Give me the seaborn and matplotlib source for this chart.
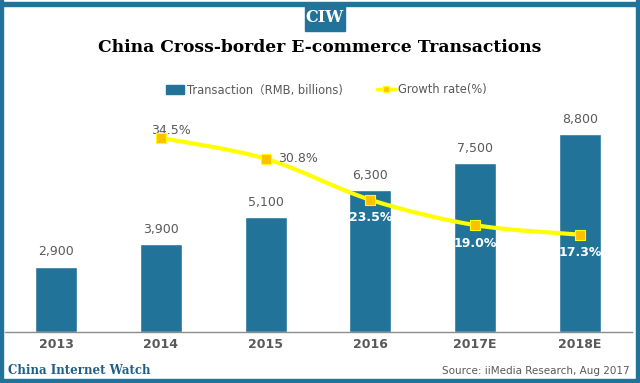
import numpy as np
import pandas as pd
import seaborn as sns
import matplotlib.pyplot as plt
from matplotlib.path import Path
from matplotlib.patches import PathPatch, Rectangle
from matplotlib.lines import Line2D

years = ['2013', '2014', '2015', '2016', '2017E', '2018E']
transactions = [2900, 3900, 5100, 6300, 7500, 8800]
growth_years = ['2014', '2015', '2016', '2017E', '2018E']
growth = [34.5, 30.8, 23.5, 19.0, 17.3]

blue = '#22739a'
gray = '#595959'

sns.set_theme(style='white')
plt.rcParams['font.family'] = ['DejaVu Sans', 'Noto Sans CJK SC']

fig = plt.figure(figsize=(6.4, 3.83), dpi=100)
ax = fig.add_axes([5 / 640, 1 - 332 / 383, 627 / 640, 225 / 383])

df = pd.DataFrame({'year': years, 'value': transactions})
sns.barplot(data=df, x='year', y='value', color=blue, width=0.4,
            saturation=1, ax=ax)
ax.set_ylim(0, 10000)
ax.set_xlim(-0.487, 5.496)
ax.set_xlabel('')
ax.set_ylabel('')
ax.set_yticks([])
for s in ['top', 'right', 'left']:
    ax.spines[s].set_visible(False)
ax.spines['bottom'].set_color('#8c8c8c')
ax.spines['bottom'].set_linewidth(1)
ax.tick_params(axis='x', length=0, pad=4, labelsize=9, labelcolor=gray)
for lab in ax.get_xticklabels():
    lab.set_fontweight('bold')

for i, v in enumerate(transactions):
    ax.annotate(f'{v:,}', (i, v), xytext=(0, 6), textcoords='offset points',
                ha='center', va='bottom', fontsize=9, color=gray)

# growth rate on secondary axis
ax2 = ax.twinx()
ax2.set_ylim(0, 40)
ax2.set_yticks([])
for s in ax2.spines.values():
    s.set_visible(False)
gx = np.array([years.index(y) for y in growth_years], dtype=float)
gy = np.array(growth)

# smooth curve through the points (catmull-rom as bezier segments)
verts = [(gx[0], gy[0])]
codes = [Path.MOVETO]
n = len(gx)
for i in range(n - 1):
    p0 = (gx[max(i - 1, 0)], gy[max(i - 1, 0)])
    p1 = (gx[i], gy[i])
    p2 = (gx[i + 1], gy[i + 1])
    p3 = (gx[min(i + 2, n - 1)], gy[min(i + 2, n - 1)])
    c1 = (p1[0] + (p2[0] - p0[0]) / 6, p1[1] + (p2[1] - p0[1]) / 6)
    c2 = (p2[0] - (p3[0] - p1[0]) / 6, p2[1] - (p3[1] - p1[1]) / 6)
    verts += [c1, c2, p2]
    codes += [Path.CURVE4] * 3
ax2.add_patch(PathPatch(Path(verts, codes), fill=False, edgecolor='#ffff00',
                        lw=3, zorder=3))
gdf = pd.DataFrame({'x': gx, 'g': gy})
sns.scatterplot(data=gdf, x='x', y='g', marker='s', s=42, color='#ffc000',
                edgecolor='#ffff00', linewidth=0.8, ax=ax2, zorder=4)
ax2.set_xlabel('')
ax2.set_ylabel('')

for i, (x, g) in enumerate(zip(gx, gy)):
    if i == 0:
        ax2.annotate(f'{g}%', (x, g), xytext=(7, 5), textcoords='offset points',
                     ha='center', va='center', fontsize=9, color=gray)
    elif i == 1:
        ax2.annotate(f'{g}%', (x, g), xytext=(9, 0), textcoords='offset points',
                     ha='left', va='center', fontsize=9, color=gray)
    else:
        ax2.annotate(f'{g}%', (x, g), xytext=(0, -13), textcoords='offset points',
                     ha='center', va='center', fontsize=9, color='white',
                     fontweight='bold')

# legend
handles = [Rectangle((0, 0), 1, 1, color=blue),
           Line2D([], [], color='#ffff00', lw=2.5, marker='s', markersize=5,
                  markerfacecolor='#ffc000', markeredgecolor='#ffff00')]
fig.legend(handles, ['Transaction（RMB, billions)', 'Growth rate(%)'],
           loc='center', bbox_to_anchor=(0.51, 1 - 90 / 383), ncol=2,
           frameon=False, fontsize=8.3, labelcolor=gray, handlelength=1.6,
           handletextpad=0.2, columnspacing=3.0)

# title and header
fig.text(0.5, 1 - 47 / 383, 'China Cross-border E-commerce Transactions',
         ha='center', va='center', fontsize=12.3, fontweight='bold',
         family='DejaVu Serif', color='black')
fig.patches.append(Rectangle((0, 1 - 6 / 383), 1, 4 / 383, color=blue,
                             transform=fig.transFigure, figure=fig))
fig.patches.append(Rectangle((305 / 640, 1 - 31 / 383), 40 / 640, 27 / 383,
                             color=blue, transform=fig.transFigure, figure=fig))
fig.text(325 / 640, 1 - 18 / 383, 'CIW', ha='center', va='center',
         fontsize=11.5, fontweight='bold', family='DejaVu Serif', color='white')

# frame
for r in [(0, 0, 3 / 640, 1), (636 / 640, 0, 4 / 640, 1), (0, 0, 1, 4 / 383)]:
    fig.patches.append(Rectangle(r[:2], r[2], r[3], color=blue,
                                 transform=fig.transFigure, figure=fig))

fig.text(8 / 640, 1 - 371 / 383, 'China Internet Watch', ha='left',
         va='center', fontsize=8.5, fontweight='bold', family='DejaVu Serif',
         color='#1f5f87')
fig.text(630 / 640, 1 - 371 / 383, 'Source: iiMedia Research, Aug 2017',
         ha='right', va='center', fontsize=7.5, color=gray)

fig.savefig('out.png', dpi=100)
